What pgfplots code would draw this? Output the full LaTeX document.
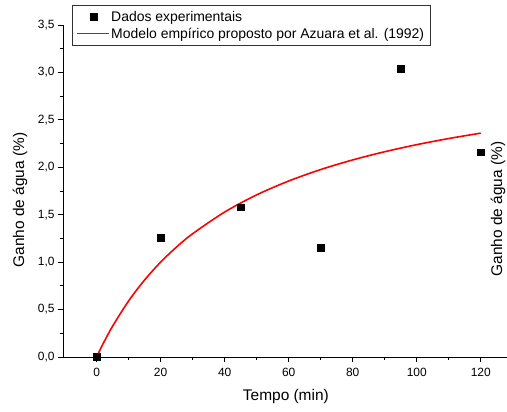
\documentclass[border=0pt]{standalone}
\usepackage{fontspec}
\setmainfont{Liberation Sans}
\usepackage{pgfplots}
\pgfplotsset{compat=1.18}
\begin{document}
\begin{tikzpicture}
\begin{axis}[
  name=ax,
  scale only axis,
  width=444bp, height=332bp,
  xmin=-10.5, xmax=128.2, ymin=0, ymax=3.5,
  axis lines*=left,
  axis line style={line width=0.9bp, black},
  xtick={0,20,...,120},
  ytick={0,0.5,...,3.5},
  minor x tick num=1, minor y tick num=1,
  tick align=outside,
  major tick length=5bp, minor tick length=3bp,
  tick style={black, line width=0.8bp},
  /pgf/number format/assume math mode=true,
  yticklabel style={/pgf/number format/.cd, fixed, fixed zerofill, precision=1, use comma},
  ticklabel style={font=\fontsize{12}{14}\selectfont},
  xticklabel style={yshift=-2.5bp},
  xlabel={Tempo (min)},
  ylabel={Ganho de água (\%)},
  label style={font=\fontsize{15.5}{17}\selectfont},
  x label style={at={(axis description cs:0.502,0)}, anchor=center, yshift=-40bp},
  y label style={at={(axis description cs:-0.0968,0.473)}, anchor=center},
  clip=false,
  legend cell align=left,
  legend style={at={(axis description cs:0.0203,1.0602)}, anchor=north west,
    draw=black!80, line width=0.8bp, font=\fontsize{14}{15}\selectfont,
    row sep=1.5bp, inner xsep=4bp, inner ysep=3.5bp},
]
\addplot[only marks, mark=square*, mark size=3.4bp, black,
  legend image code/.code={\path plot[mark=square*, mark size=3.4bp, black] coordinates {(19bp,0bp)};}]
  coordinates {(0,0) (20,1.26) (45,1.58) (70,1.15) (95,3.04) (120,2.16)};
\addlegendentry{Dados experimentais}
\addplot[red, line width=1.6bp, smooth,
  legend image code/.code={\draw[red, line width=0.8bp] (2bp,0bp) -- (34bp,0bp);}]
  coordinates {(0,0) (2,0.1384) (5,0.3252) (10,0.5912) (15,0.8127) (20,1.0)
    (25,1.1605) (30,1.2996) (40,1.5285) (50,1.7092) (60,1.8554) (70,1.9762)
    (80,2.0776) (90,2.1640) (100,2.2384) (110,2.3032) (120,2.3602)};
\addlegendentry{Modelo empírico proposto por Azuara et al. (1992)}
\node[rotate=90, anchor=center, font=\fontsize{15.5}{17}\selectfont]
  at (axis description cs:0.98,0.446) {Ganho de água (\%)};
\end{axis}
\pgfresetboundingbox
\path[use as bounding box] ([xshift=-63bp,yshift=-55bp]ax.south west) rectangle ([yshift=25bp]ax.north east);
\end{tikzpicture}
\end{document}
